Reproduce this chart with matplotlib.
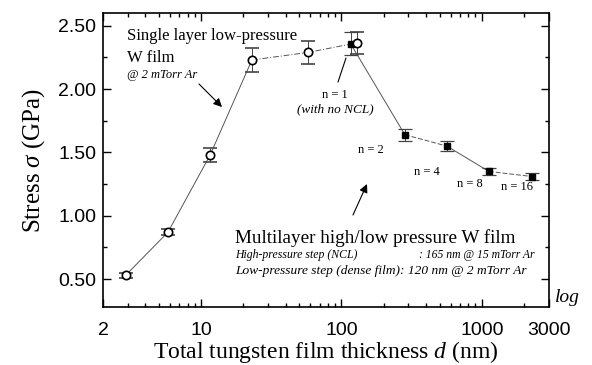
import matplotlib
matplotlib.use("Agg")
import matplotlib.pyplot as plt
import numpy as np

plt.rcParams["mathtext.fontset"] = "custom"
plt.rcParams["mathtext.rm"] = "Liberation Serif"
plt.rcParams["mathtext.it"] = "Liberation Serif:italic"

# Single layer low-pressure W film (open circles)
single_d = [2.9, 5.8, 11.6, 23, 58, 128]
single_s = [0.53, 0.87, 1.48, 2.23, 2.29, 2.365]
single_err = [0.02, 0.025, 0.055, 0.095, 0.09, 0.09]

# Multilayer films (filled squares)
multi_d = [116, 283, 564, 1125, 2280]
multi_s = [2.36, 1.64, 1.55, 1.35, 1.31]
multi_err = [0.09, 0.048, 0.04, 0.03, 0.03]

x_ticks = [2, 10, 100, 1000, 3000]
x_ticklabels = ["2", "10", "100", "1000", "3000"]
y_ticks = [0.5, 1.0, 1.5, 2.0, 2.5]
y_ticklabels = ["0.50", "1.00", "1.50", "2.00", "2.50"]

serif = "Liberation Serif"
sans = "Liberation Sans"

fig = plt.figure(figsize=(5.92, 3.65), dpi=100)
ax = fig.add_axes([0.174, 0.159, 0.753, 0.805])

lc = "#555555"
ax.plot(single_d[:4], single_s[:4], color=lc, lw=0.7, zorder=1)
ax.plot(single_d[3:], single_s[3:], color=lc, lw=0.7, ls=(0, (6, 2, 1, 2)), zorder=1)
ax.plot(multi_d[:2], multi_s[:2], color=lc, lw=0.7, zorder=1)
ax.plot(multi_d[1:3], multi_s[1:3], color=lc, lw=0.7, ls=(0, (5, 2)), zorder=1)
ax.plot(multi_d[2:4], multi_s[2:4], color=lc, lw=0.7, zorder=1)
ax.plot(multi_d[3:], multi_s[3:], color=lc, lw=0.7, ls=(0, (5, 2)), zorder=1)
ax.errorbar(single_d, single_s, yerr=single_err, fmt="o", mfc="white", mec="black",
            mew=1.2, ms=6, ecolor="#444444", elinewidth=0.7, capsize=5, capthick=0.9, zorder=3)
ax.errorbar(multi_d, multi_s, yerr=multi_err, fmt="s", mfc="black", mec="black",
            ms=5, ecolor="#444444", elinewidth=0.7, capsize=5, capthick=0.9, zorder=2)

ax.set_xscale("log")
ax.set_xlim(2, 3000)
ax.set_ylim(0.28, 2.6)
ax.set_xticks(x_ticks)
ax.set_xticklabels(x_ticklabels, fontfamily=sans, fontsize=14)
ax.set_yticks(y_ticks)
ax.set_yticklabels(y_ticklabels, fontfamily=sans, fontsize=14)
ax.set_yticks([0.75, 1.25, 1.75, 2.25], minor=True)
ax.xaxis.set_minor_locator(matplotlib.ticker.LogLocator(base=10, subs=np.arange(2, 10)))
ax.xaxis.set_minor_formatter(matplotlib.ticker.NullFormatter())
ax.tick_params(which="both", direction="in", top=True, right=True, width=1)
ax.tick_params(which="major", length=6)
ax.tick_params(axis="x", which="major", pad=11)
ax.tick_params(axis="y", which="major", pad=5)
ax.tick_params(which="minor", length=3)
for s in ax.spines.values():
    s.set_linewidth(1.2)

ax.set_xlabel("Total tungsten film thickness $d$ (nm)", fontfamily=serif, fontsize=17, labelpad=0)
ax.set_ylabel(r"Stress $\sigma$ (GPa)", fontfamily=serif, fontsize=18, labelpad=8)

def fx(px, py):
    return fig.transFigure.inverted().transform((px, 365 - py))

def txt(px, py, s, size=11, style="normal", ha="left"):
    x, y = fx(px, py)
    fig.text(x, y, s, fontfamily=serif, fontsize=size, style=style, ha=ha, va="center")

txt(127, 36, "Single layer low-pressure", 12)
txt(127, 58, "W film", 12)
txt(127, 75, "@ 2 mTorr Ar", 9, "italic")
txt(335, 95, "n = 1", 9, ha="center")
txt(335, 109, "(with no NCL)", 9.5, "italic", ha="center")
txt(371, 150, "n = 2", 9, ha="center")
txt(427, 172, "n = 4", 9, ha="center")
txt(470, 184, "n = 8", 9, ha="center")
txt(517, 187, "n = 16", 9, ha="center")
txt(235, 238, "Multilayer high/low pressure W film", 13.8)
txt(235, 255, "High-pressure step (NCL)", 8.5, "italic")
txt(419, 255, ": 165 nm @ 15 mTorr Ar", 8.4, "italic")
txt(235, 271, "Low-pressure step (dense film): 120 nm @ 2 mTorr Ar", 9.6, "italic")
txt(555, 297, "log", 14, "italic")

def arrow(p0, p1, head=True):
    a = fx(*p0); b = fx(*p1)
    fig.add_artist(matplotlib.patches.FancyArrowPatch(
        a, b, transform=fig.transFigure,
        arrowstyle="-|>,head_length=5,head_width=2.5" if head else "-",
        color="black", lw=0.8, shrinkA=0, shrinkB=0))

arrow((199, 84), (222, 107))
arrow((338, 82), (346, 58), head=False)
arrow((353, 215), (367, 184))

fig.savefig("out.png", dpi=100)
